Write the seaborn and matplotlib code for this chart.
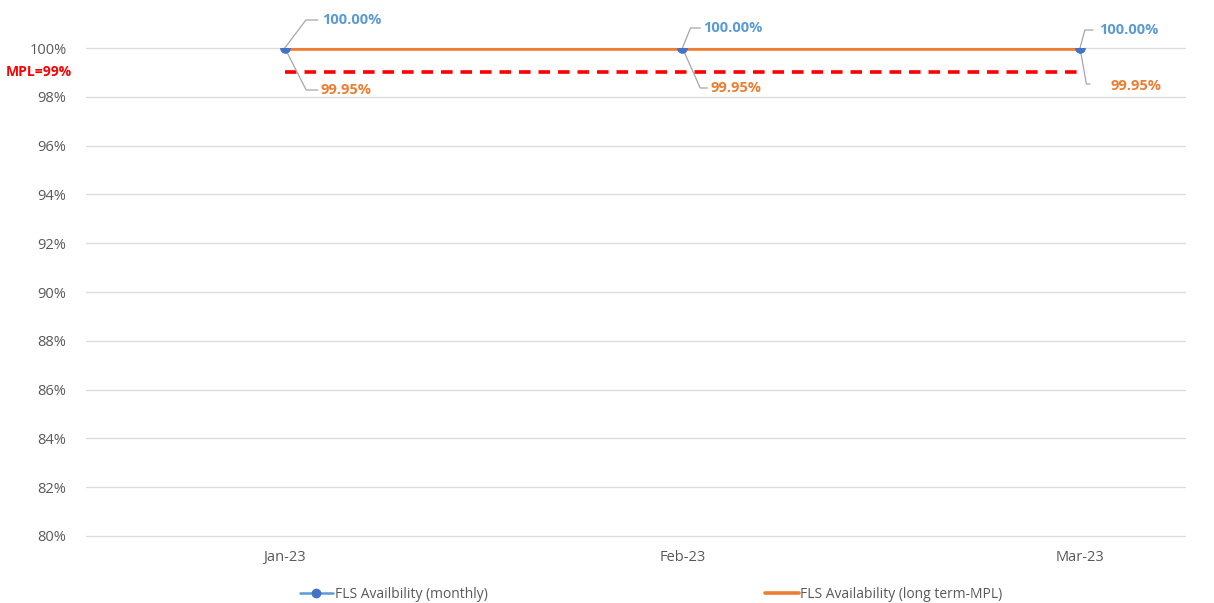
import matplotlib
matplotlib.use("Agg")
import matplotlib.pyplot as plt
from matplotlib.lines import Line2D
from matplotlib.ticker import FuncFormatter
import matplotlib.transforms as mtransforms
import seaborn as sns
import pandas as pd

# Data
months = ["Jan-23", "Feb-23", "Mar-23"]
monthly = [100.00, 100.00, 100.00]
long_term = [99.95, 99.95, 99.95]
mpl_target = 99.0
y_ticks = [80, 82, 84, 86, 88, 90, 92, 94, 96, 98, 100]

BLUE = "#4472C4"
BLUE_LBL = "#5B9BD5"
ORANGE = "#ED7D31"
RED = "#FF0000"
GRAY_TXT = "#595959"
GRID = "#DDDDDD"
LEADER = "#A6A6A6"

sns.set_theme(style="white")
plt.rcParams["font.family"] = ["Open Sans", "DejaVu Sans"]

df = pd.DataFrame({"x": range(len(months)), "month": months,
                   "monthly": monthly, "long_term": long_term,
                   "mpl": [mpl_target] * len(months)})

fig = plt.figure(figsize=(12.14, 6.03), dpi=100)
ax = fig.add_axes([86 / 1214, 1 - 536 / 603, (1185 - 86) / 1214, (536 - 48) / 603])

# target line
sns.lineplot(data=df, x="x", y="mpl", ax=ax, color=RED, lw=2.6,
             linestyle=(0, (3.2, 2.2)), zorder=2)
# monthly series (line hidden beneath long-term line)
sns.lineplot(data=df, x="x", y="monthly", ax=ax, color=BLUE, lw=1.8, zorder=2)
# long-term series
sns.lineplot(data=df, x="x", y="long_term", ax=ax, color=ORANGE, lw=2.6, zorder=3)
# monthly markers
sns.scatterplot(data=df, x="x", y="monthly", ax=ax, color=BLUE, s=50,
                edgecolor=BLUE, linewidth=0.5, zorder=4)

ax.set_xlim(-0.5, 2.264)
ax.set_ylim(80, 100)
ax.set_yticks(y_ticks)
ax.yaxis.set_major_formatter(FuncFormatter(lambda v, p: f"{v:.0f}%"))
ax.set_xticks(df["x"])
ax.set_xticklabels(months)
ax.set_xlabel("")
ax.set_ylabel("")
ax.grid(axis="y", color=GRID, lw=1)
for gl in ax.get_ygridlines():
    gl.set_clip_on(False)
ax.set_axisbelow(True)
for s in ax.spines.values():
    s.set_visible(False)
ax.tick_params(axis="both", length=0, labelsize=10.5, colors=GRAY_TXT)
ax.tick_params(axis="y", pad=14)
ax.tick_params(axis="x", pad=10)

# target label beside the y axis
trans = mtransforms.blended_transform_factory(ax.transAxes, ax.transData)
ax.text(-14 / 1099, mpl_target, f"MPL={mpl_target:.0f}%", transform=trans,
        ha="right", va="center", color=RED, fontsize=10, fontweight="bold")


def leader(x, y, corner_end, angle):
    """Two-segment gray leader line from a point to a label anchor."""
    ax.annotate("", xy=(x, y), xytext=corner_end, textcoords="offset pixels",
                annotation_clip=False,
                arrowprops=dict(arrowstyle="-", color=LEADER, lw=0.9,
                                shrinkA=0, shrinkB=0,
                                connectionstyle=f"angle,angleA=0,angleB={angle},rad=0"))


# data labels with leader lines
blue_offsets = [(37, 28), (21, 20), (19, 18)]
blue_leader_end = [(33, 28), (18, 20), (13, 18)]
blue_angles = [53, 68, 75]
orange_offsets = [(36, -42), (28, -40), (30, -38)]
orange_leader_end = [(33, -42), (25, -40), (10, -36)]
orange_angles = [-63, -66, -80]
for i in range(len(months)):
    leader(i, monthly[i], blue_leader_end[i], blue_angles[i])
    ax.annotate(f"{monthly[i]:.2f}%", xy=(i, monthly[i]), xytext=blue_offsets[i],
                textcoords="offset pixels", ha="left", va="center",
                color=BLUE_LBL, fontsize=10.5, fontweight="bold",
                annotation_clip=False)
    leader(i, monthly[i], orange_leader_end[i], orange_angles[i])
    ax.annotate(f"{long_term[i]:.2f}%", xy=(i, monthly[i]), xytext=orange_offsets[i],
                textcoords="offset pixels", ha="left", va="center",
                color=ORANGE, fontsize=10.5, fontweight="bold",
                annotation_clip=False)

handles = [Line2D([], [], color=BLUE_LBL, lw=1.8, marker="o", markersize=6,
                  markerfacecolor=BLUE, markeredgecolor=BLUE),
           Line2D([], [], color=ORANGE, lw=2.6)]
labels = ["FLS Availbility (monthly)", "FLS Availability (long term-MPL)"]
fig.legend(handles, labels, loc="center", bbox_to_anchor=(651 / 1214, 1 - 594 / 603),
           ncol=2, frameon=False, fontsize=10, handlelength=2.4, handletextpad=0.1,
           columnspacing=20, labelcolor=GRAY_TXT)

fig.savefig("out.png", dpi=100, facecolor="white")
